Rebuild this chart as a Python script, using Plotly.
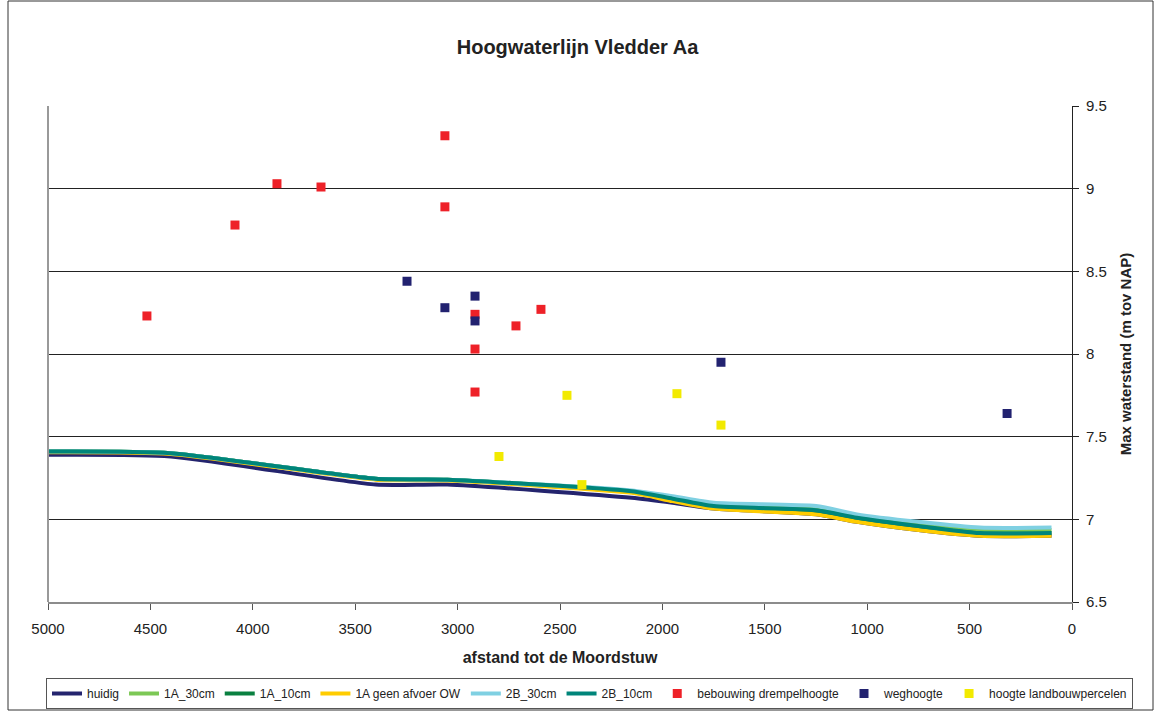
import plotly.graph_objects as go

# Distance to the Moordstuw weir (m) at which the water levels were computed
afstand = [5000, 4400, 3400, 3050, 2150, 1950, 1750, 1250, 1050, 750, 450, 100]

# Maximum water level (m NAP) per scenario
huidig = [7.39, 7.38, 7.21, 7.21, 7.13, 7.10, 7.065, 7.03, 6.985, 6.935, 6.90, 6.90]
a1_30cm = [7.41, 7.40, 7.245, 7.24, 7.17, 7.13, 7.09, 7.065, 7.02, 6.97, 6.935, 6.935]
a1_10cm = [7.41, 7.40, 7.245, 7.24, 7.165, 7.12, 7.08, 7.05, 7.005, 6.955, 6.915, 6.915]
a1_geen_afvoer = [7.405, 7.395, 7.24, 7.235, 7.16, 7.11, 7.065, 7.03, 6.985, 6.935, 6.90, 6.90]
b2_30cm = [7.41, 7.40, 7.245, 7.24, 7.175, 7.14, 7.10, 7.08, 7.03, 6.985, 6.95, 6.95]
b2_10cm = [7.41, 7.40, 7.245, 7.24, 7.17, 7.125, 7.08, 7.055, 7.01, 6.96, 6.917, 6.917]

# Threshold heights of buildings
bebouwing_x = [4517, 4087, 3882, 3667, 3062, 3062, 2915, 2915, 2915, 2715, 2593]
bebouwing_y = [8.23, 8.78, 9.03, 9.01, 9.32, 8.89, 8.24, 8.03, 7.77, 8.17, 8.27]

# Road heights
weg_x = [3247, 3062, 2915, 2915, 1714, 317]
weg_y = [8.44, 8.28, 8.35, 8.20, 7.95, 7.64]

# Heights of agricultural plots
landbouw_x = [2798, 2466, 2393, 1929, 1714]
landbouw_y = [7.38, 7.75, 7.21, 7.76, 7.57]

line_series = [
    ("huidig", huidig, "#24246e"),
    ("1A_30cm", a1_30cm, "#7cc855"),
    ("1A_10cm", a1_10cm, "#0a8040"),
    ("1A geen afvoer OW", a1_geen_afvoer, "#ffcc00"),
    ("2B_30cm", b2_30cm, "#7fd0e2"),
    ("2B_10cm", b2_10cm, "#00857a"),
]

point_series = [
    ("bebouwing drempelhoogte", bebouwing_x, bebouwing_y, "#ee2128"),
    ("weghoogte", weg_x, weg_y, "#222270"),
    ("hoogte landbouwpercelen", landbouw_x, landbouw_y, "#f2ea00"),
]

fig = go.Figure()

for name, values, color in line_series:
    fig.add_trace(go.Scatter(
        x=afstand, y=values, name=name, mode="lines",
        line=dict(color=color, width=4, shape="spline", smoothing=0.6),
    ))

for name, xs, ys, color in point_series:
    fig.add_trace(go.Scatter(
        x=xs, y=ys, name=name, mode="markers",
        marker=dict(symbol="square", size=9, color=color, line=dict(width=0)),
    ))

W, H = 1155, 711
L, R, T, B = 48, 1072, 106, 602


def px_x(p):
    return (p - L) / (R - L)


def px_y(p):
    return (B - p) / (B - T)


font = "Liberation Sans, Arial, sans-serif"

fig.update_layout(
    width=W, height=H,
    margin=dict(l=L, r=W - R, t=T, b=H - B, pad=0, autoexpand=False),
    paper_bgcolor="white", plot_bgcolor="white",
    font=dict(family=font, size=15, color="#222222"),
    title=dict(
        text="<b>Hoogwaterlijn Vledder Aa</b>",
        x=0.5, xanchor="center", y=1 - 47 / H, yanchor="middle",
        font=dict(size=20, color="#222222"),
    ),
    showlegend=True,
    legend=dict(
        orientation="h", x=px_x(1133), xanchor="right",
        y=px_y(678), yanchor="top",
        bordercolor="#555555", borderwidth=1, bgcolor="white",
        font=dict(size=12, color="#222222"),
        itemwidth=30, tracegroupgap=0,
    ),
    shapes=[
        # outer chart frame
        dict(type="rect", xref="paper", yref="paper",
             x0=px_x(8), x1=px_x(1153), y0=px_y(710), y1=px_y(1),
             line=dict(color="#333333", width=1), layer="below"),
        # left edge of the plot area
        dict(type="line", xref="paper", yref="paper",
             x0=0, x1=0, y0=0, y1=1,
             line=dict(color="#999999", width=2)),
    ],
)

fig.update_xaxes(
    range=[5000, 0], tickmode="linear", tick0=0, dtick=500,
    showgrid=False, zeroline=False, automargin=False,
    showline=True, linecolor="#8c8c8c", linewidth=2, mirror=False,
    ticks="outside", ticklen=6, tickcolor="#555555",
    tickfont=dict(size=15), ticklabelstandoff=6,
    title=dict(text="<b>afstand tot de Moordstuw</b>", font=dict(size=16), standoff=16),
)

fig.update_yaxes(
    range=[6.5, 9.5], tickmode="linear", tick0=6.5, dtick=0.5,
    side="right", showgrid=True, gridcolor="#222222", gridwidth=1,
    zeroline=False, showline=True, linecolor="#222222", linewidth=1,
    automargin=False,
    ticks="outside", ticklen=6, tickcolor="#222222",
    tickfont=dict(size=15), ticklabelstandoff=4,
    title=dict(text="<b>Max waterstand (m tov NAP)</b>", font=dict(size=15), standoff=14),
)

fig.write_html("out.html")
